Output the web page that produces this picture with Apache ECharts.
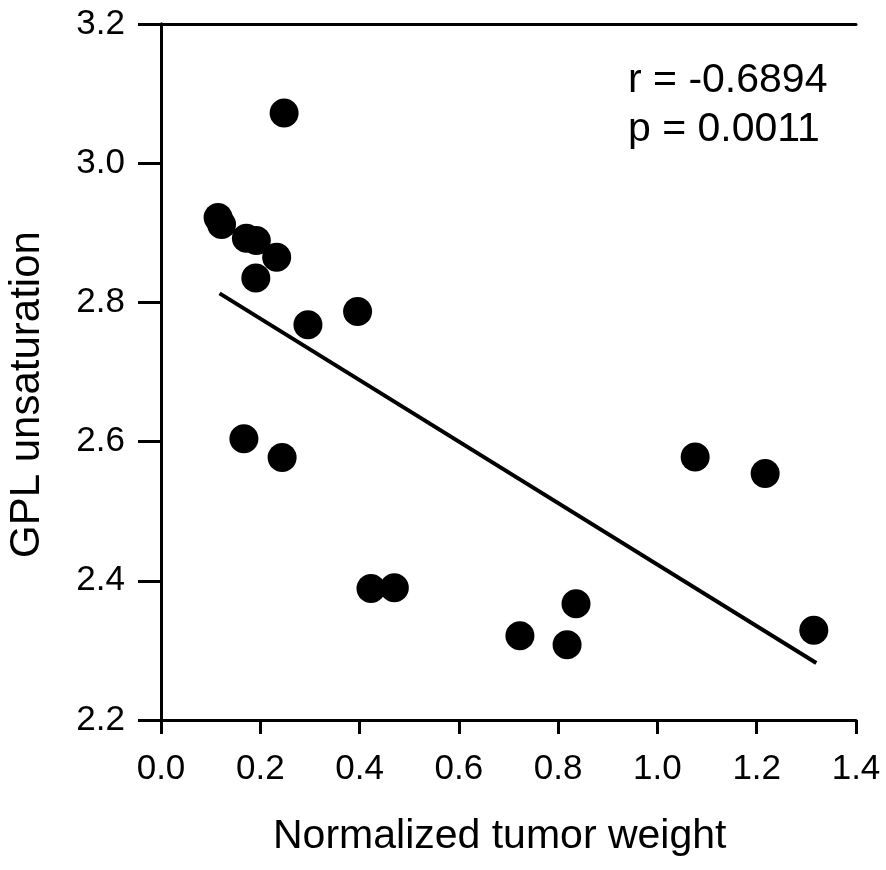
<!DOCTYPE html>
<html>
<head>
<meta charset="utf-8">
<title>GPL unsaturation vs tumor weight</title>
<script src="https://cdn.jsdelivr.net/npm/echarts@6/dist/echarts.min.js"></script>
<style>
  html, body { margin: 0; padding: 0; background: #fff; }
  #main { width: 886px; height: 870px; }
</style>
</head>
<body>
<div id="main"></div>
<script>
// data
var tumorWeight = [0.248, 0.115, 0.122, 0.172, 0.192, 0.233, 0.191, 0.296, 0.396,
  0.167, 0.244, 0.423, 0.470, 1.076, 1.217, 0.836, 0.723, 0.818, 1.315];
var gplUnsat = [3.072, 2.922, 2.912, 2.892, 2.889, 2.865, 2.835, 2.768, 2.787,
  2.604, 2.577, 2.389, 2.390, 2.578, 2.554, 2.367, 2.321, 2.308, 2.329];
// ends of the fitted line
var fitX = [0.118, 1.320];
var fitY = [2.813, 2.282];
var xTicks = [0.0, 0.2, 0.4, 0.6, 0.8, 1.0, 1.2, 1.4];
var yTicks = [2.2, 2.4, 2.6, 2.8, 3.0, 3.2];
var statsText = ['r = -0.6894', 'p = 0.0011'];

var FONT = '"Liberation Sans", Arial, sans-serif';

var chart = echarts.init(document.getElementById('main'));

var points = tumorWeight.map(function (x, i) { return [x, gplUnsat[i]]; });
var fitLine = fitX.map(function (x, i) { return [x, fitY[i]]; });

var axisLine = { show: true, lineStyle: { color: '#000', width: 3 } };

var option = {
  backgroundColor: '#fff',
  animation: false,
  grid: { left: 161, right: 30, top: 24, bottom: 150, containLabel: false },
  xAxis: [{
    type: 'value',
    position: 'bottom',
    min: xTicks[0],
    max: xTicks[xTicks.length - 1],
    interval: 0.2,
    axisLine: axisLine,
    axisTick: { show: true, inside: false, length: 14, lineStyle: { color: '#000', width: 3 } },
    axisLabel: {
      margin: 32, color: '#000', fontSize: 35, fontFamily: FONT,
      formatter: function (v) { return v.toFixed(1); }
    },
    splitLine: { show: false }
  }, {
    type: 'value',
    position: 'top',
    min: xTicks[0],
    max: xTicks[xTicks.length - 1],
    axisLine: axisLine,
    axisTick: { show: false },
    axisLabel: { show: false },
    splitLine: { show: false }
  }],
  yAxis: [{
    type: 'value',
    position: 'left',
    min: yTicks[0],
    max: yTicks[yTicks.length - 1],
    interval: 0.2,
    axisLine: axisLine,
    axisTick: { show: true, inside: false, length: 23, lineStyle: { color: '#000', width: 3 } },
    axisLabel: {
      margin: 36, color: '#000', fontSize: 35, fontFamily: FONT,
      formatter: function (v) { return v.toFixed(1); }
    },
    splitLine: { show: false }
  }, {
    type: 'value',
    position: 'right',
    min: yTicks[0],
    max: yTicks[yTicks.length - 1],
    axisLine: axisLine,
    axisTick: { show: false },
    axisLabel: { show: false },
    splitLine: { show: false }
  }],
  graphic: [{
    type: 'text',
    left: 628, top: 56,
    style: {
      text: statsText.join('\n'),
      font: '41px ' + FONT,
      lineHeight: 49,
      fill: '#000'
    }
  }, {
    type: 'text',
    left: 273, top: 816,
    style: { text: 'Normalized tumor weight', font: '41px ' + FONT, fill: '#000' }
  }, {
    type: 'text',
    x: 6, y: 558,
    rotation: Math.PI / 2,
    style: { text: 'GPL unsaturation', font: '42px ' + FONT, fill: '#000', textVerticalAlign: 'top' }
  }],
  series: [{
    type: 'line',
    data: fitLine,
    symbol: 'none',
    lineStyle: { color: '#000', width: 4 },
    z: 2
  }, {
    type: 'scatter',
    data: points,
    symbol: 'circle',
    symbolSize: 29,
    itemStyle: { color: '#000', opacity: 1 },
    z: 3
  }]
};

chart.setOption(option);
</script>
</body>
</html>
